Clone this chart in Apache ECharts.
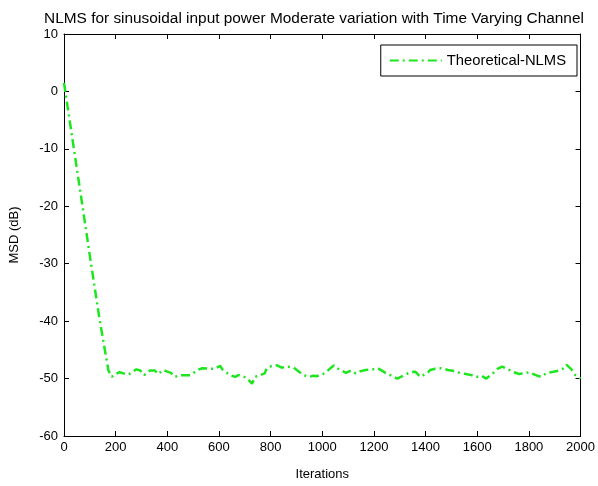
<!DOCTYPE html>
<html>
<head>
<meta charset="utf-8">
<script src="https://cdn.jsdelivr.net/npm/echarts@6/dist/echarts.min.js"></script>
<style>html,body{margin:0;padding:0;background:#fff}#c{width:598px;height:486px}</style>
</head>
<body>
<div id="c"></div>
<script>
const titleText = 'NLMS for sinusoidal input power Moderate variation with Time Varying Channel';
const seriesName = 'Theoretical-NLMS';
const xName = 'Iterations';
const yName = 'MSD (dB)';
const iterations = [0,35,70,103,137,172,185,200,215,230,250,280,295,310,333,352,364,385,400,414,429,452,490,517,536,582,605,613,643,663,675,690,710,728,740,760,777,785,804,825,843,862,889,910,927,950,965,977,1003,1015,1034,1045,1065,1092,1111,1130,1149,1168,1195,1215,1237,1252,1264,1290,1322,1341,1360,1380,1410,1418,1437,1460,1486,1513,1532,1555,1578,1597,1616,1635,1658,1678,1697,1720,1743,1762,1781,1800,1827,1846,1870,1895,1916,1935,1946,1965,1980,2000];
const msd = [1.5,-9,-19.5,-29.5,-39.5,-48.6,-49.7,-49.2,-48.9,-49.1,-49.3,-48.4,-48.6,-49.4,-48.6,-48.6,-49.2,-48.5,-48.8,-49.0,-49.7,-49.4,-49.4,-48.5,-48.2,-48.3,-47.8,-48.4,-49.4,-49.7,-49.4,-49.5,-50.0,-50.9,-49.7,-49.4,-49.1,-48.2,-47.8,-47.7,-48.1,-47.9,-48.1,-48.8,-49.4,-49.7,-49.5,-49.6,-49.2,-48.9,-48.1,-47.7,-48.4,-49.0,-48.6,-49.1,-48.7,-48.5,-48.4,-48.2,-48.8,-49.2,-49.4,-50.0,-49.3,-48.9,-48.8,-49.7,-48.9,-48.5,-48.3,-48.2,-48.5,-48.7,-49.0,-49.2,-49.4,-49.7,-49.5,-50.0,-49.2,-48.3,-47.9,-48.4,-48.9,-49.2,-49.1,-48.9,-49.4,-49.7,-49.0,-48.8,-48.6,-48.2,-47.6,-48.4,-49.4,-50.0];
const xMin = 0, xMax = 2000, xStep = 200;
const yMin = -60, yMax = 10, yStep = 10;

const font = '"Liberation Sans", Arial, sans-serif';
const green = '#1ee61e';
const chart = echarts.init(document.getElementById('c'), null, {renderer: 'canvas'});
const axCommon = {
  axisLine: {show: true, onZero: false, lineStyle: {color: '#000', width: 1}},
  axisTick: {show: true, inside: true, length: 5, lineStyle: {color: '#000'}},
  splitLine: {show: false}
};
const plain = v => String(v);
chart.setOption({
  animation: false,
  backgroundColor: '#fff',
  title: {
    text: titleText, left: 309, textAlign: 'center', top: 6,
    textStyle: {fontFamily: font, fontSize: 15.4, fontWeight: 'normal', color: '#000'}
  },
  legend: {
    data: [seriesName], right: 21, top: 45,
    orient: 'vertical',
    borderColor: '#000', borderWidth: 1, backgroundColor: '#fff',
    padding: [8, 11, 8, 8], itemWidth: 52, itemHeight: 14, itemGap: 4,
    itemStyle: {opacity: 0},
    textStyle: {fontFamily: font, fontSize: 14.8, color: '#000'}
  },
  grid: {left: 60, right: 17, top: 34, bottom: 40, containLabel: false},
  xAxis: [
    Object.assign({}, axCommon, {
      type: 'value', min: xMin, max: xMax, interval: xStep, position: 'bottom',
      name: xName, nameLocation: 'middle', nameGap: 32,
      nameTextStyle: {fontFamily: font, fontSize: 13, color: '#000'},
      axisLabel: {fontFamily: font, fontSize: 13, color: '#000', margin: 5, formatter: plain}
    }),
    Object.assign({}, axCommon, {
      type: 'value', min: xMin, max: xMax, interval: xStep, position: 'top',
      axisLabel: {show: false}
    })
  ],
  yAxis: [
    Object.assign({}, axCommon, {
      type: 'value', min: yMin, max: yMax, interval: yStep, position: 'left',
      name: yName, nameLocation: 'middle', nameGap: 43,
      nameTextStyle: {fontFamily: font, fontSize: 13, color: '#000'},
      axisLabel: {fontFamily: font, fontSize: 13, color: '#000', margin: 6, formatter: plain}
    }),
    Object.assign({}, axCommon, {
      type: 'value', min: yMin, max: yMax, interval: yStep, position: 'right',
      axisLabel: {show: false}
    })
  ],
  series: [{
    name: seriesName, type: 'line', xAxisIndex: 0, yAxisIndex: 0,
    data: iterations.map((x, i) => [x, msd[i]]),
    showSymbol: false, symbol: 'none',
    lineStyle: {color: green, width: 2.5, type: [9, 4, 2, 4]},
    itemStyle: {color: green}
  }]
});
</script>
</body>
</html>
